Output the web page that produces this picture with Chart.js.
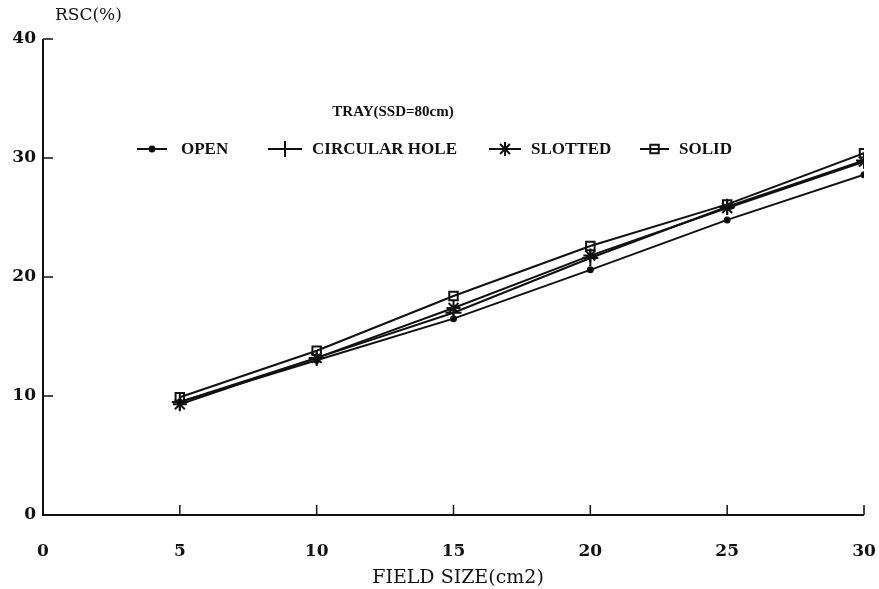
<!DOCTYPE html>
<html>
<head>
<meta charset="utf-8">
<script src="https://cdn.jsdelivr.net/npm/chart.js@4.4.1/dist/chart.umd.min.js"></script>
<style>
  html, body { margin: 0; padding: 0; background: #fff; }
  #wrap { width: 879px; height: 589px; position: relative; }
</style>
</head>
<body>
<div id="wrap"><canvas id="rscChart" width="879" height="589"></canvas></div>
<script>
// field sizes (cm2)
const fieldSizes = [5, 10, 15, 20, 25, 30];

// RSC(%) per tray type
const openVals = [9.5, 13.0, 16.5, 20.6, 24.8, 28.6];
const circularVals = [9.5, 13.2, 17.0, 21.6, 25.9, 29.8];
const slottedVals = [9.3, 13.2, 17.4, 21.8, 25.8, 29.7];
const solidVals = [9.9, 13.8, 18.4, 22.6, 26.1, 30.4];

const seriesNames = ['OPEN', 'CIRCULAR HOLE', 'SLOTTED', 'SOLID'];
const xTicks = [0, 5, 10, 15, 20, 25, 30];
const yTicks = [0, 10, 20, 30, 40];

const legendTitle = 'TRAY(SSD=80cm)';
const yTitle = 'RSC(%)';
const xTitle = 'FIELD SIZE(cm2)';

const toPoints = vals => vals.map((v, i) => ({ x: fieldSizes[i], y: v }));

const styles = [
    { pointStyle: 'circle', radius: 2.5, fill: '#000' },
    { pointStyle: 'cross', radius: 8, fill: '#000' },
    { pointStyle: 'star', radius: 7, fill: '#000' },
    { pointStyle: 'rect', radius: 6, fill: 'rgba(0,0,0,0)' }
];

const allVals = [openVals, circularVals, slottedVals, solidVals];

const datasets = allVals.map((vals, i) => ({
    label: seriesNames[i],
    data: toPoints(vals),
    borderColor: '#111',
    borderWidth: 2,
    backgroundColor: styles[i].fill,
    pointStyle: styles[i].pointStyle,
    pointRadius: styles[i].radius,
    pointBorderColor: '#111',
    pointBorderWidth: 2,
    pointBackgroundColor: styles[i].fill,
    tension: 0
}));

// inward ticks, legend and axis titles drawn on the canvas
const decorPlugin = {
    id: 'decor',
    afterDraw(chart) {
        const ctx = chart.ctx;
        const xs = chart.scales.x, ys = chart.scales.y;
        const area = chart.chartArea;
        ctx.save();
        ctx.strokeStyle = '#111';
        ctx.lineWidth = 2;
        // axis lines
        ctx.beginPath();
        ctx.moveTo(area.left, area.top);
        ctx.lineTo(area.left, area.bottom);
        ctx.lineTo(area.right, area.bottom);
        ctx.stroke();
        // inward ticks
        ctx.lineWidth = 1.5;
        xTicks.slice(1).forEach(t => {
            const px = xs.getPixelForValue(t);
            ctx.beginPath();
            ctx.moveTo(px, area.bottom);
            ctx.lineTo(px, area.bottom - 10);
            ctx.stroke();
        });
        yTicks.slice(1).forEach(t => {
            const py = ys.getPixelForValue(t);
            ctx.beginPath();
            ctx.moveTo(area.left, py);
            ctx.lineTo(area.left + 10, py);
            ctx.stroke();
        });

        // axis titles
        ctx.fillStyle = '#111';
        ctx.font = '17px "DejaVu Serif"';
        ctx.textBaseline = 'middle';
        ctx.textAlign = 'left';
        ctx.fillText(yTitle, 55, 16);
        ctx.font = '19px "DejaVu Serif"';
        ctx.textAlign = 'center';
        ctx.fillText(xTitle, 458, 578);

        // legend
        ctx.font = 'bold 15px "Liberation Serif"';
        ctx.fillText(legendTitle, 393, 112);
        const items = [
            { x0: 137, x1: 167, tx: 181 },
            { x0: 268, x1: 302, tx: 312 },
            { x0: 489, x1: 521, tx: 531 },
            { x0: 640, x1: 669, tx: 679 }
        ];
        const ly = 149;
        ctx.textAlign = 'left';
        ctx.font = 'bold 17px "Liberation Serif"';
        items.forEach((it, i) => {
            ctx.lineWidth = 2;
            ctx.beginPath();
            ctx.moveTo(it.x0, ly);
            ctx.lineTo(it.x1, ly);
            ctx.stroke();
            ctx.fillStyle = styles[i].fill;
            Chart.helpers.drawPoint(ctx, {
                pointStyle: styles[i].pointStyle,
                radius: styles[i].radius,
                borderWidth: 1.5
            }, (it.x0 + it.x1) / 2, ly);
            ctx.fillStyle = '#111';
            ctx.fillText(seriesNames[i], it.tx, ly + 1);
        });
        ctx.restore();
    }
};

new Chart(document.getElementById('rscChart'), {
    type: 'line',
    data: { datasets: datasets },
    plugins: [decorPlugin],
    options: {
        responsive: false,
        animation: false,
        layout: { autoPadding: false, padding: { top: 39, right: 15, left: 0, bottom: 0 } },
        plugins: {
            legend: { display: false },
            tooltip: { enabled: false }
        },
        scales: {
            x: {
                type: 'linear',
                min: 0,
                max: 30,
                afterBuildTicks: axis => { axis.ticks = xTicks.map(v => ({ value: v })); },
                afterFit: axis => {
                    axis.height = 74;
                    axis.paddingLeft = 0;
                    axis.paddingRight = 0;
                },
                grid: { display: false, drawTicks: false },
                border: { display: false },
                ticks: {
                    padding: 26,
                    color: '#111',
                    font: { family: 'DejaVu Serif', size: 17, weight: 'bold' },
                    maxRotation: 0
                }
            },
            y: {
                type: 'linear',
                min: 0,
                max: 40,
                afterBuildTicks: axis => { axis.ticks = yTicks.map(v => ({ value: v })); },
                afterFit: axis => { axis.width = 43; },
                grid: { display: false, drawTicks: false },
                border: { display: false },
                ticks: {
                    padding: 7,
                    color: '#111',
                    font: { family: 'DejaVu Serif', size: 17, weight: 'bold' }
                }
            }
        }
    }
});
</script>
</body>
</html>
